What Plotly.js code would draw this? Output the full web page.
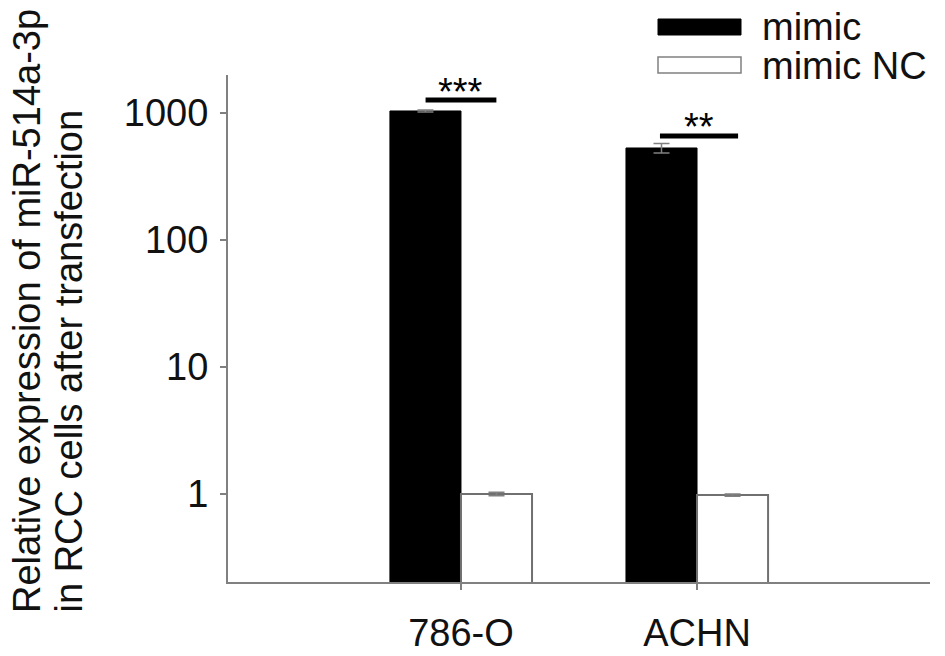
<!DOCTYPE html>
<html>
<head>
<meta charset="utf-8">
<script src="https://cdn.plot.ly/plotly-3.0.1.min.js"></script>
<style>html,body{margin:0;padding:0;background:#fff;}#chart{width:945px;height:656px;}</style>
</head>
<body>
<div id="chart"></div>
<script>
// ---- data ----
var categories = ["786-O", "ACHN"];
var seriesNames = ["mimic", "mimic NC"];
var mimicValues = [1037, 530];
var mimicErrors = [20, 45];
var ncValues = [1.0, 0.98];
var ncErrors = [0.03, 0.02];
var yTickVals = [1, 10, 100, 1000];
var yTickText = ["1", "10", "100", "1000"];
var significance = ["***", "**"];
var yTitleLines = ["Relative expression of miR-514a-3p", "in RCC cells after transfection"];

var FONT = "Liberation Sans, Arial, sans-serif";
var AXC = "#808080";

var traces = [
  {
    type: "bar", name: seriesNames[0], x: categories, y: mimicValues,
    marker: {color: "#000000", line: {color: "#000000", width: 1}},
    error_y: {type: "data", array: mimicErrors, visible: true, color: "#808080", thickness: 1.5, width: 8},
    showlegend: false
  },
  {
    type: "bar", name: seriesNames[1], x: categories, y: ncValues,
    marker: {color: "#ffffff", line: {color: "#707070", width: 2}},
    error_y: {type: "data", array: ncErrors, visible: true, color: "#808080", thickness: 1.5, width: 8},
    showlegend: false
  }
];

var px = function (p) { return (p - 228) / 702; };
var py = function (p) { return (582 - p) / 507; };

var shapes = [
  // significance bars (category index +/- offset)
  {type: "line", xref: "x", yref: "paper", x0: -0.15, x1: 0.15, y0: py(100), y1: py(100), line: {color: "#000", width: 5}},
  {type: "line", xref: "x", yref: "paper", x0: 0.843, x1: 1.174, y0: py(136), y1: py(136), line: {color: "#000", width: 5}},
  // legend swatches
  {type: "rect", xref: "paper", yref: "paper", x0: px(658), x1: px(741), y0: py(35), y1: py(19), fillcolor: "#000", line: {color: "#000", width: 1}},
  {type: "rect", xref: "paper", yref: "paper", x0: px(658), x1: px(741), y0: py(73), y1: py(57), fillcolor: "#fff", line: {color: "#808080", width: 1.5}}
];

var annotations = [
  {xref: "x", yref: "paper", x: 0, y: py(92), text: significance[0], showarrow: false, xanchor: "center", yanchor: "middle", font: {family: FONT, size: 38, color: "#000"}},
  {xref: "x", yref: "paper", x: 1.008, y: py(127), text: significance[1], showarrow: false, xanchor: "center", yanchor: "middle", font: {family: FONT, size: 38, color: "#000"}},
  {xref: "paper", yref: "paper", x: px(760), y: py(27), text: seriesNames[0], showarrow: false, xanchor: "left", yanchor: "middle", font: {family: FONT, size: 38, color: "#111"}},
  {xref: "paper", yref: "paper", x: px(760), y: py(66), text: seriesNames[1], showarrow: false, xanchor: "left", yanchor: "middle", font: {family: FONT, size: 38, color: "#111"}},
  {xref: "paper", yref: "paper", x: px(27), y: py(615), text: yTitleLines[0], textangle: -90, showarrow: false, xanchor: "center", yanchor: "bottom", font: {family: FONT, size: 38, color: "#111"}},
  {xref: "paper", yref: "paper", x: px(68), y: py(615), text: yTitleLines[1], textangle: -90, showarrow: false, xanchor: "center", yanchor: "bottom", font: {family: FONT, size: 38, color: "#111"}}
];

var layout = {
  width: 945, height: 656,
  margin: {l: 228, r: 15, t: 75, b: 74, pad: 0},
  paper_bgcolor: "#fff", plot_bgcolor: "#fff",
  barmode: "group", bargap: 0.398, bargroupgap: 0,
  showlegend: false,
  font: {family: FONT, size: 38, color: "#111"},
  xaxis: {
    type: "category", range: [-0.987, 1.987],
    showline: true, linecolor: AXC, linewidth: 2,
    ticks: "outside", ticklen: 6, tickwidth: 2, tickcolor: AXC,
    ticklabelstandoff: 10,
    tickfont: {family: FONT, size: 38, color: "#111"},
    showgrid: false, zeroline: false, fixedrange: true
  },
  yaxis: {
    type: "log", range: [-0.693, 3.299],
    tickvals: yTickVals, ticktext: yTickText,
    showline: true, linecolor: AXC, linewidth: 2,
    ticks: "outside", ticklen: 6, tickwidth: 2, tickcolor: AXC,
    ticklabelstandoff: 4,
    tickfont: {family: FONT, size: 38, color: "#111"},
    showgrid: false, zeroline: false, fixedrange: true
  },
  shapes: shapes,
  annotations: annotations
};

Plotly.newPlot("chart", traces, layout, {staticPlot: true, displayModeBar: false});
</script>
</body>
</html>
